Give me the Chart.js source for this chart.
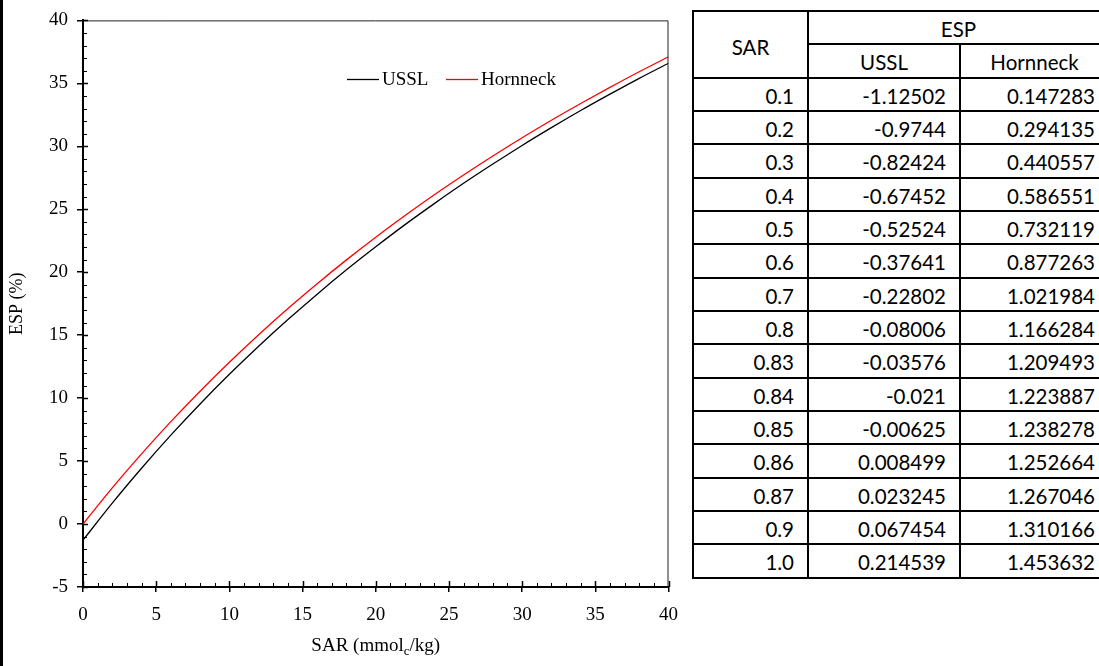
<!DOCTYPE html>
<html>
<head>
<meta charset="utf-8">
<script src="https://cdn.jsdelivr.net/npm/chart.js@4.4.1/dist/chart.umd.min.js"></script>
<style>
  html, body { margin: 0; padding: 0; background: #fff; }
  body { width: 1099px; height: 666px; position: relative; overflow: hidden; }
  #bar { position: absolute; left: 0; top: 0; width: 3px; height: 666px; background: #000; }
  #wrap { position: absolute; left: 0; top: 0; width: 690px; height: 666px; }
  #tw { position: absolute; left: 692px; top: 10px; width: 440px; }
  #tbl {
    width: 420px;
    border-collapse: collapse; table-layout: fixed;
    font-family: Lato, "Open Sans", sans-serif; font-size: 20.5px; color: #000;
  }
  #tbl td {
    border: 2px solid #000; height: 28.33px; padding: 3px 13px 0 6px;
    text-align: right; vertical-align: middle; white-space: nowrap; line-height: 24px;
  }
  #tbl td.last { padding-right: 18px; border-right: 0 none; }
  #tbl td.c { text-align: center; padding-left: 0; padding-right: 0; }
  #tbl td.c.last { padding-right: 5px; }
</style>
</head>
<body>
<div id="bar"></div>
<div id="wrap"><canvas id="c" width="690" height="666"></canvas></div>
<div id="tw">
<table id="tbl">
  <colgroup><col style="width:115px"><col style="width:152px"><col style="width:153px"></colgroup>
  <tbody id="tb"></tbody>
</table>
</div>
<script>
// ---- chart data ----
const sarPoints   = [0, 2, 4, 6, 8, 10, 12, 14, 16, 18, 20, 22, 24, 26, 28, 30, 32, 34, 36, 38, 40];
const usslESP     = [-1.28, 1.66, 4.43, 7.06, 9.54, 11.89, 14.12, 16.24, 18.26, 20.19, 22.02, 23.78, 25.45, 27.06, 28.59, 30.07, 31.48, 32.84, 34.14, 35.40, 36.60];
const hornneckESP = [0.00, 2.87, 5.57, 8.13, 10.55, 12.85, 15.04, 17.12, 19.09, 20.98, 22.78, 24.50, 26.15, 27.72, 29.23, 30.68, 32.07, 33.40, 34.68, 35.92, 37.11];
const seriesNames = ["USSL", "Hornneck"];
const xTicks = [0, 5, 10, 15, 20, 25, 30, 35, 40];
const yTicks = [-5, 0, 5, 10, 15, 20, 25, 30, 35, 40];

// ---- table data ----
const tableSAR      = ["0.1", "0.2", "0.3", "0.4", "0.5", "0.6", "0.7", "0.8", "0.83", "0.84", "0.85", "0.86", "0.87", "0.9", "1.0"];
const tableUSSL     = ["-1.12502", "-0.9744", "-0.82424", "-0.67452", "-0.52524", "-0.37641", "-0.22802", "-0.08006", "-0.03576", "-0.021", "-0.00625", "0.008499", "0.023245", "0.067454", "0.214539"];
const tableHornneck = ["0.147283", "0.294135", "0.440557", "0.586551", "0.732119", "0.877263", "1.021984", "1.166284", "1.209493", "1.223887", "1.238278", "1.252664", "1.267046", "1.310166", "1.453632"];

// build table
(function () {
  const tb = document.getElementById('tb');
  let html = '<tr><td class="c" rowspan="2" style="vertical-align:middle;padding-top:6px">SAR</td><td class="c last" colspan="2">ESP</td></tr>';
  html += '<tr><td class="c">' + seriesNames[0] + '</td><td class="c last">' + seriesNames[1] + '</td></tr>';
  for (let i = 0; i < tableSAR.length; i++) {
    html += '<tr><td>' + tableSAR[i] + '</td><td>' + tableUSSL[i] + '</td><td class="last">' + tableHornneck[i] + '</td></tr>';
  }
  tb.innerHTML = html;
})();

const SERIF = '"Liberation Serif", "Times New Roman", serif';

const decor = {
  id: 'decor',
  afterDraw(chart) {
    const ctx = chart.ctx, a = chart.chartArea, xs = chart.scales.x, ys = chart.scales.y;
    ctx.save();
    // top & right frame
    ctx.strokeStyle = '#222'; ctx.lineWidth = 1;
    ctx.beginPath();
    ctx.moveTo(a.left, a.top + 0.5); ctx.lineTo(a.right - 0.5, a.top + 0.5); ctx.lineTo(a.right - 0.5, a.bottom);
    ctx.stroke();
    // inner ticks
    ctx.strokeStyle = '#000';
    for (let v = -5; v <= 40; v++) {
      const y = Math.round(ys.getPixelForValue(v)) + 0.5;
      const major = v % 5 === 0;
      ctx.lineWidth = major ? 1.5 : 1;
      ctx.beginPath(); ctx.moveTo(a.left, y); ctx.lineTo(a.left + (major ? 5 : 4), y); ctx.stroke();
    }
    for (let v = 0; v <= 40; v++) {
      const x = Math.round(xs.getPixelForValue(v)) + 0.5;
      const major = v % 5 === 0;
      ctx.lineWidth = major ? 1.5 : 1;
      ctx.beginPath(); ctx.moveTo(x, a.bottom); ctx.lineTo(x, a.bottom - (major ? 6 : 4)); ctx.stroke();
    }
    // legend
    ctx.font = '19px ' + SERIF; ctx.textBaseline = 'middle'; ctx.textAlign = 'left'; ctx.fillStyle = '#000';
    const ly = 79.5;
    const items = [{x: 347, ds: chart.data.datasets[0]}, {x: 446, ds: chart.data.datasets[1]}];
    items.forEach(it => {
      ctx.strokeStyle = it.ds.borderColor; ctx.lineWidth = 1.3;
      ctx.beginPath(); ctx.moveTo(it.x, ly); ctx.lineTo(it.x + 32, ly); ctx.stroke();
      ctx.fillText(it.ds.label, it.x + 35, ly + 1);
    });
    // x title with subscript
    const cx = (a.left + a.right) / 2, ty = 645;
    const p1 = 'SAR (mmol', sub = 'c', p2 = '/kg)';
    ctx.font = '19px ' + SERIF;
    const w1 = ctx.measureText(p1).width, w3 = ctx.measureText(p2).width;
    ctx.font = '13px ' + SERIF;
    const w2 = ctx.measureText(sub).width;
    let sx = cx - (w1 + w2 + w3) / 2;
    ctx.font = '19px ' + SERIF; ctx.textBaseline = 'alphabetic';
    ctx.fillText(p1, sx, ty + 6);
    ctx.font = '13px ' + SERIF;
    ctx.fillText(sub, sx + w1, ty + 10);
    ctx.font = '19px ' + SERIF;
    ctx.fillText(p2, sx + w1 + w2, ty + 6);
    // y title
    ctx.translate(17, (a.top + a.bottom) / 2);
    ctx.rotate(-Math.PI / 2);
    ctx.textAlign = 'center'; ctx.textBaseline = 'middle';
    ctx.font = '18px ' + SERIF;
    ctx.fillText('ESP (%)', 0, 0);
    ctx.restore();
  }
};

new Chart(document.getElementById('c'), {
  type: 'line',
  data: {
    datasets: [
      { label: seriesNames[0], data: sarPoints.map((s, i) => ({x: s, y: usslESP[i]})), borderColor: '#000000', borderWidth: 1.3, pointRadius: 0, cubicInterpolationMode: 'monotone', fill: false },
      { label: seriesNames[1], data: sarPoints.map((s, i) => ({x: s, y: hornneckESP[i]})), borderColor: '#ff0000', borderWidth: 1.3, pointRadius: 0, cubicInterpolationMode: 'monotone', fill: false }
    ]
  },
  options: {
    responsive: false, animation: false, devicePixelRatio: 1,
    layout: { padding: { left: 0, top: 20, right: 21, bottom: 0 } },
    plugins: { legend: { display: false }, tooltip: { enabled: false }, title: { display: false } },
    scales: {
      x: {
        type: 'linear', min: 0, max: 40,
        afterBuildTicks: s => { s.ticks = xTicks.map(v => ({value: v})); },
        afterFit: s => { s.height = 79; },
        ticks: { font: { family: SERIF, size: 19 }, color: '#000', padding: 12, maxRotation: 0 },
        grid: { drawOnChartArea: false, drawTicks: true, tickLength: 5, color: '#000', lineWidth: 1.5 },
        border: { display: true, color: '#000', width: 2 }
      },
      y: {
        type: 'linear', min: -5, max: 40,
        afterBuildTicks: s => { s.ticks = yTicks.map(v => ({value: v})); },
        afterFit: s => { s.width = 83; },
        ticks: { font: { family: SERIF, size: 19 }, color: '#000', padding: 9 },
        grid: { drawOnChartArea: false, drawTicks: true, tickLength: 6, color: '#000', lineWidth: 1.5 },
        border: { display: true, color: '#000', width: 2 }
      }
    }
  },
  plugins: [decor]
});
</script>
</body>
</html>
